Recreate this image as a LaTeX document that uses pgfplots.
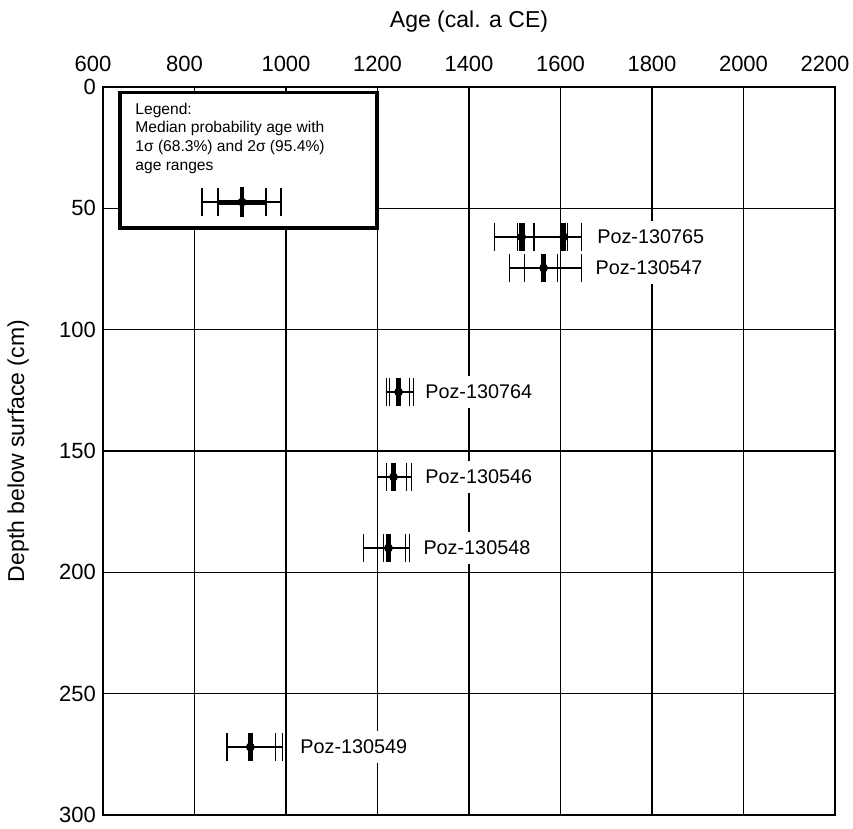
\documentclass[border=0pt]{standalone}
\usepackage{fontspec}
\setmainfont{Liberation Sans}
\usepackage{pgfplots}
\pgfplotsset{compat=1.18}
\usepackage{pgfplotstable}

% depth, 2sigma low, 1sigma low, median, 1sigma high, 2sigma high
\pgfplotstableread{
d lo2 lo1 med hi1 hi2
61.8 1456 1506 1515 1521 1541
61.8 1543 1600 1607 1615 1646
74.6 1489 1521 1563 1593 1646
125.7 1220 1226 1246 1270 1279
160.7 1200 1220 1235 1263 1274
190.0 1169 1213 1224 1261 1270
272.0 870 872 922 977 993
}\dates

\tikzset{sigcap/.style={only marks, mark=|, mark size=7pt, mark options={black, line width=0.7pt}}}

\begin{document}
\begin{tikzpicture}
\begin{axis}[
 name=ax, scale only axis, width=366pt, height=364pt,
 xmin=600, xmax=2200, ymin=0, ymax=300, y dir=reverse,
 xtick={1000,1200,...,2000},
 extra x ticks={600,800,2200},
 extra x tick style={grid=major, xticklabel style={xshift=-5pt}},
 ytick={0,50,...,300},
 xticklabel pos=upper,
 grid=major, grid style={black, line width=0.7pt},
 axis line style={black, line width=0.7pt},
 major tick length=0pt,
 ticklabel style={font=\fontsize{11}{13}\selectfont},
 xticklabel style={yshift=4pt},
 /pgf/number format/1000 sep={},
 /pgf/number format/assume math mode=true,
 scaled x ticks=false,
 xlabel={Age (cal. a CE)},
 ylabel={Depth below surface (cm)},
 xlabel style={font=\fontsize{11.5}{13}\selectfont, at={(axis description cs:0.5,1.0893)}, anchor=center},
 ylabel style={font=\fontsize{11.5}{13}\selectfont, at={(axis description cs:-0.116,0.5)}, anchor=center},
 clip=false,
]
% legend box
\draw[line width=1.6pt, fill=white] (axis cs:637,2.3) rectangle (axis cs:1199,58.1);
\node[anchor=north west, inner sep=0pt, align=left, font=\fontsize{7.8}{9.35}\selectfont]
  at (axis cs:670,6.4) {Legend:\\Median probability age with\\1σ (68.3\%) and 2σ (95.4\%)\\age ranges};
\addplot[only marks, mark=none, error bars/.cd, x dir=both, x explicit, error mark=none,
  error bar style={black, line width=0.7pt}] coordinates {(904,47.4) -= (88,0) += (85,0)};
\addplot[black, line width=2.5pt] coordinates {(851,47.4) (956,47.4)};
\addplot[sigcap] coordinates {(816,47.4) (851,47.4) (956,47.4) (989,47.4)};
\addplot[only marks, mark=|, mark size=7.5pt, mark options={black, line width=2.3pt}] coordinates {(904,47.4)};

% dated samples
\addplot[only marks, mark=none, error bars/.cd, x dir=both, x explicit, error mark=none,
  error bar style={black, line width=0.7pt}]
  table[x=med, y=d, x error plus expr=\thisrow{hi2}-\thisrow{med}, x error minus expr=\thisrow{med}-\thisrow{lo2}] {\dates};
\addplot[sigcap] table[x=lo2, y=d] {\dates};
\addplot[sigcap] table[x=lo1, y=d] {\dates};
\addplot[sigcap] table[x=hi1, y=d] {\dates};
\addplot[sigcap] table[x=hi2, y=d] {\dates};
\addplot[only marks, mark=|, mark size=7pt, mark options={black, line width=2.6pt}] table[x=med, y=d] {\dates};
\addplot[only marks, mark=*, mark size=1.8pt, mark options={black}] table[x=med, y=d] {\dates};

\begin{scope}[every node/.style={anchor=west, fill=white, inner xsep=2pt, inner ysep=4.5pt, font=\fontsize{9.9}{12}\selectfont}]
\node at (axis cs:1671,61.8) {Poz-130765};
\node at (axis cs:1667,74.6) {Poz-130547};
\node at (axis cs:1295,125.7) {Poz-130764};
\node at (axis cs:1295,160.7) {Poz-130546};
\node at (axis cs:1291,190.0) {Poz-130548};
\node at (axis cs:1022,272.0) {Poz-130549};
\end{scope}
\end{axis}
\pgfresetboundingbox
\path ([shift={(-51.5pt,-7pt)}]ax.south west) rectangle ([shift={(375pt,407.5pt)}]ax.south west);
\end{tikzpicture}
\end{document}
